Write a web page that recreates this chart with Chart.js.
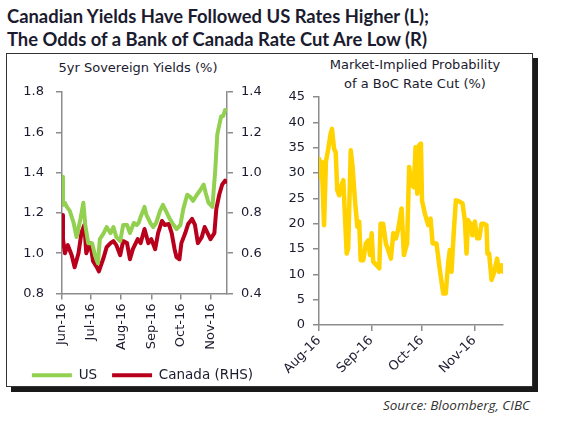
<!DOCTYPE html>
<html>
<head>
<meta charset="utf-8">
<script src="https://cdn.jsdelivr.net/npm/chart.js@4.4.0/dist/chart.umd.min.js"></script>
<style>
  body { margin: 0; background: #fff; width: 564px; height: 423px; overflow: hidden; position: relative;
         font-family: 'DejaVu Sans', sans-serif; color: #1b1b2f; }
  #title { position: absolute; left: 7px; top: 5px; font-family: Lato, 'Open Sans', sans-serif; font-weight: bold;
           font-size: 18.4px; line-height: 23px; color: #1b1b2f; white-space: nowrap; }
  #frame { position: absolute; left: 6px; top: 53px; width: 525px; height: 332px; border: 1.5px solid #333;
           box-shadow: 5px 5px 0 #1a1a1a; }
  .sub { position: absolute; font-size: 13px; line-height: 19px; text-align: center; white-space: nowrap;
         transform: translateX(-50%); }
  #source { position: absolute; right: 34px; top: 396px; font-family: 'Open Sans', sans-serif; font-style: italic;
            font-size: 13.5px; color: #333; }
  canvas { position: absolute; }
</style>
</head>
<body>
<div id="title">Canadian Yields Have Followed US Rates Higher (L);<br>The Odds of a Bank of Canada Rate Cut Are Low (R)</div>
<div id="frame"></div>
<div class="sub" style="left:138px; top:58px;">5yr Sovereign Yields (%)</div>
<div class="sub" style="left:415px; top:55px;">Market-Implied Probability<br>of a BoC Rate Cut (%)</div>
<canvas id="left" width="265" height="334" style="left:10px; top:58px;"></canvas>
<canvas id="right" width="250" height="328" style="left:282px; top:58px;"></canvas>
<div id="source">Source: Bloomberg, CIBC</div>
<script>
// left panel: days counted from 1 Jun 2016
var leftMonthDays = [0, 30, 61, 92, 122, 153];
var leftMonthLabels = ['Jun-16', 'Jul-16', 'Aug-16', 'Sep-16', 'Oct-16', 'Nov-16'];

var usDays = [0,1,3,5,8,12,15,19,22,24,27,31,34,37,39,43,46,50,53,56,60,63,67,70,74,77,79,81,85,87,91,94,97,101,104,108,111,115,118,122,125,129,132,135,139,142,146,148,151,155,158,160,164,166,168];
var usYield = [1.38,1.24,1.25,1.23,1.21,1.15,1.08,1.17,1.25,1.14,1.05,1.05,0.99,0.95,1.07,1.10,1.13,1.10,1.13,1.08,1.06,1.14,1.14,1.10,1.15,1.14,1.15,1.18,1.23,1.19,1.15,1.13,1.15,1.21,1.24,1.20,1.17,1.14,1.12,1.14,1.22,1.29,1.28,1.26,1.29,1.31,1.34,1.30,1.25,1.23,1.42,1.59,1.68,1.68,1.71];

var caDays = [0,1,3,6,10,13,17,20,23,25,29,32,36,38,43,46,50,53,56,60,63,67,70,73,78,81,85,89,92,96,99,103,106,110,113,116,118,121,123,127,130,134,137,140,144,147,150,153,157,159,162,165,168,169];
var caYield = [0.79,0.67,0.60,0.64,0.59,0.53,0.60,0.70,0.74,0.60,0.65,0.56,0.53,0.51,0.58,0.63,0.65,0.66,0.64,0.59,0.66,0.65,0.57,0.62,0.67,0.65,0.72,0.65,0.67,0.62,0.70,0.76,0.74,0.745,0.70,0.62,0.58,0.57,0.65,0.70,0.745,0.77,0.74,0.65,0.68,0.73,0.70,0.67,0.70,0.82,0.89,0.94,0.96,0.955];

// right panel: days counted from 1 Aug 2016
var rightMonthDays = [0, 31, 61, 92];
var rightMonthLabels = ['Aug-16', 'Sep-16', 'Oct-16', 'Nov-16'];

var cutDays = [0,0.6,1.6,3,4.1,5.5,6.9,7.7,8.9,9.9,10.8,12,13,14.4,15.4,16.4,17.3,18.8,19.9,21.3,22.7,23.8,24.7,26.2,27.8,29.2,30.2,31.2,32.1,34.1,35.7,36.5,38,39.6,41,42.6,44,45.6,46.9,48.9,50.3,52.2,53.4,54.9,56.2,57.2,58.2,59.3,60.4,61,62.7,64.7,66.1,67.3,69.6,71.6,73.6,75.1,76.5,77.5,78.5,79.9,81.1,83,85,86.4,87.4,88.3,89.8,90.9,92.3,93.7,94.9,96.3,97.6,99.2,99.8,100.8,102.2,103.6,105.5,106.7,108.1,109];
var cutProb = [32.8,29.2,32.2,19.7,32.2,34.8,37.8,38.7,34.8,34.1,26.6,25.6,27.2,28.6,21.3,14.1,15.2,34.5,31.2,24.6,19.4,20.4,12.8,12.8,16.1,16.7,13.8,18.1,12.5,11.8,11.2,20.0,20.0,16.1,14.8,13.1,18.1,17.1,18.9,23.0,13.8,16.1,31.2,27.6,27.2,35.1,25.9,35.5,35.8,24.6,22.0,19.7,21.0,16.1,16.1,10.8,6.2,6.2,12.2,14.8,10.5,18.7,24.6,24.4,24.0,20.7,14.1,20.7,19.9,17.7,20.4,17.1,17.1,20.0,20.0,19.7,14.1,14.1,8.9,10.2,13.1,10.5,11.8,10.5];

var txt = '#1b1b2f';
var axisGray = '#8c8c8c';
var tickFont = { family: "'DejaVu Sans', sans-serif", size: 13 };

function pts(xs, ys) {
    return xs.map(function (x, i) { return { x: x, y: ys[i] }; });
}

function gridOpts() {
    return { drawOnChartArea: false, drawTicks: true, tickLength: 6, color: axisGray, lineWidth: 1.5 };
}

new Chart(document.getElementById('left').getContext('2d'), {
    type: 'line',
    data: {
        datasets: [{
            label: 'US',
            data: pts(usDays, usYield),
            borderColor: '#92d050',
            backgroundColor: '#92d050',
            borderWidth: 4,
            yAxisID: 'y'
        }, {
            label: 'Canada (RHS)',
            data: pts(caDays, caYield),
            borderColor: '#b8001c',
            backgroundColor: '#b8001c',
            borderWidth: 4,
            yAxisID: 'y1'
        }]
    },
    options: {
        responsive: false,
        animation: false,
        elements: { point: { radius: 0 }, line: { tension: 0, borderJoinStyle: 'round', borderCapStyle: 'round' } },
        layout: { padding: { top: 34, left: 0, right: 0, bottom: 0 } },
        plugins: {
            tooltip: { enabled: false },
            legend: {
                position: 'bottom',
                labels: {
                    usePointStyle: true,
                    pointStyle: 'line',
                    pointStyleWidth: 40,
                    boxWidth: 40,
                    padding: 15,
                    color: txt,
                    font: { family: tickFont.family, size: 13.5 }
                }
            }
        },
        scales: {
            x: {
                type: 'linear',
                min: 0,
                max: 170,
                afterBuildTicks: function (s) { s.ticks = leftMonthDays.map(function (d) { return { value: d }; }); },
                afterFit: function (s) { s.height = 60; },
                grid: gridOpts(),
                border: { color: axisGray, width: 1.5 },
                ticks: {
                    autoSkip: false,
                    minRotation: 90,
                    maxRotation: 90,
                    padding: 4,
                    color: txt,
                    font: tickFont,
                    callback: function (v, i) { return leftMonthLabels[i]; }
                }
            },
            y: {
                position: 'left',
                min: 0.8,
                max: 1.8,
                afterFit: function (s) { s.width = 52; },
                grid: gridOpts(),
                border: { color: axisGray, width: 1.5 },
                ticks: { stepSize: 0.2, padding: 12, color: txt, font: tickFont,
                         callback: function (v) { return v.toFixed(1); } }
            },
            y1: {
                position: 'right',
                min: 0.4,
                max: 1.4,
                afterFit: function (s) { s.width = 48; },
                grid: gridOpts(),
                border: { color: axisGray, width: 1.5 },
                ticks: { stepSize: 0.2, padding: 8, color: txt, font: tickFont,
                         callback: function (v) { return v.toFixed(1); } }
            }
        }
    }
});

new Chart(document.getElementById('right').getContext('2d'), {
    type: 'line',
    data: {
        datasets: [{
            label: 'BoC cut probability',
            data: pts(cutDays, cutProb),
            borderColor: '#ffd200',
            borderWidth: 4.5
        }]
    },
    options: {
        responsive: false,
        animation: false,
        elements: { point: { radius: 0 }, line: { tension: 0, borderJoinStyle: 'round', borderCapStyle: 'round' } },
        layout: { padding: { top: 39, left: 0, right: 29, bottom: 0 } },
        plugins: { legend: { display: false }, tooltip: { enabled: false } },
        scales: {
            x: {
                type: 'linear',
                min: 0,
                max: 109,
                afterBuildTicks: function (s) { s.ticks = rightMonthDays.map(function (d) { return { value: d }; }); },
                afterFit: function (s) { s.height = 61; },
                grid: gridOpts(),
                border: { color: axisGray, width: 1.5 },
                ticks: {
                    autoSkip: false,
                    minRotation: 45,
                    maxRotation: 45,
                    padding: 2,
                    color: txt,
                    font: tickFont,
                    callback: function (v, i) { return rightMonthLabels[i]; }
                }
            },
            y: {
                min: 0,
                max: 45,
                afterFit: function (s) { s.width = 37; },
                grid: gridOpts(),
                border: { color: axisGray, width: 1.5 },
                ticks: { stepSize: 5, padding: 8, color: txt, font: tickFont }
            }
        }
    }
});
</script>
</body>
</html>
